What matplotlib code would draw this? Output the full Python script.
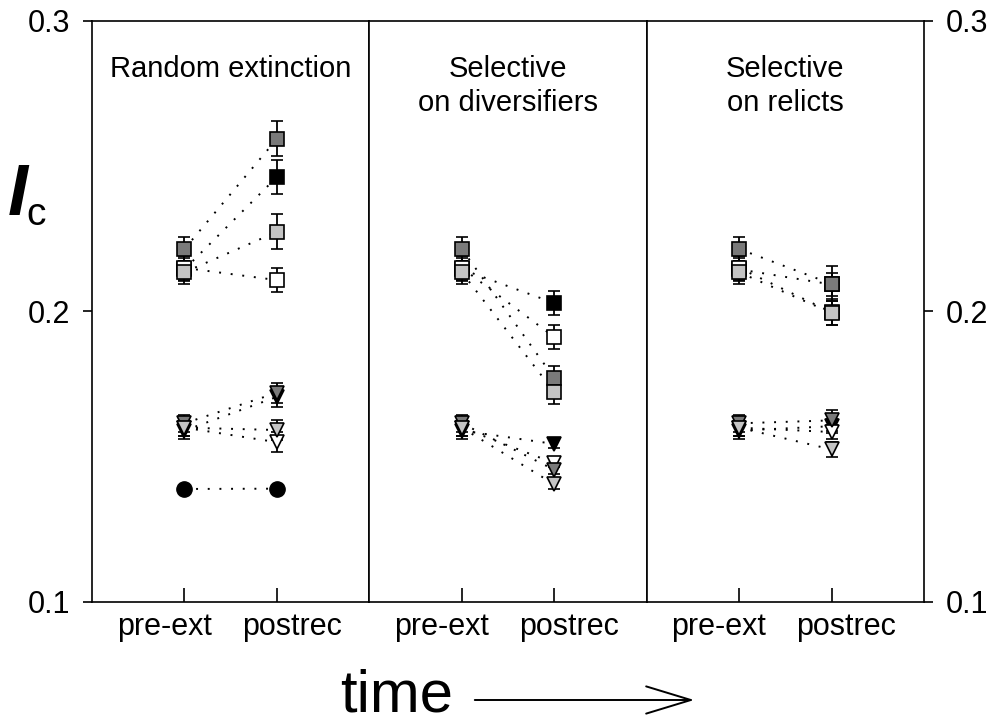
import matplotlib.pyplot as plt
import matplotlib.patches as mpatches

plt.rcParams['font.family'] = ['Liberation Sans', 'DejaVu Sans']

# ---- data ----
panel_titles = ["Random extinction", "Selective\non diversifiers", "Selective\non relicts"]
time_labels = ["pre-ext", "postrec"]

# series order: black, dark grey, light grey, white
# squares, same pre-extinction values in every panel
sq_pre = [0.2145, 0.2215, 0.2135, 0.2150]
sq_pre_err = [0.004, 0.004, 0.004, 0.004]
sq_post_random = [0.2463, 0.2594, 0.2274, 0.2108]
sq_post_div = [0.2029, 0.1771, 0.1723, 0.1912]
sq_post_rel = [0.2093, 0.2095, 0.1995, 0.1997]
sq_post_err_random = [0.006, 0.006, 0.006, 0.004]
sq_post_err_div = [0.004, 0.004, 0.004, 0.004]
sq_post_err_rel = [0.004, 0.006, 0.004, 0.0045]

# triangles
tri_pre = [0.1590, 0.1615, 0.1600, 0.1600]
tri_pre_err = [0.003, 0.003, 0.003, 0.003]
tri_post_random = [0.1706, 0.1720, 0.1592, 0.1550]
tri_post_div = [0.1544, 0.1455, 0.1405, 0.1478]
tri_post_rel = [0.1605, 0.1625, 0.1525, 0.1585]
tri_post_err_random = [0.0035, 0.0035, 0.0035, 0.0035]
tri_post_err_div = [0.0015, 0.0015, 0.0015, 0.0015]
tri_post_err_rel = [0.0025, 0.0035, 0.0025, 0.0025]

# circles (random extinction only)
circ_pre = 0.1389
circ_post = 0.1390

sq_post = [sq_post_random, sq_post_div, sq_post_rel]
sq_post_err = [sq_post_err_random, sq_post_err_div, sq_post_err_rel]
tri_post = [tri_post_random, tri_post_div, tri_post_rel]
tri_post_err = [tri_post_err_random, tri_post_err_div, tri_post_err_rel]

face_colors = ['black', '#7a7a7a', '#c4c4c4', 'white']
draw_order = [0, 3, 1, 2]
x = [1, 2]
label_x = [0.78, 2.16]   # the time labels sit a bit outside the ticks
dots = (0, (1, 5))

fig, axes = plt.subplots(1, 3, sharey=True, figsize=(9.91, 7.18), dpi=100)
plt.subplots_adjust(left=0.0928, right=0.9324, bottom=0.1616, top=0.9708, wspace=0)

for i, ax in enumerate(axes):
    for j in draw_order:
        # squares
        ax.plot(x, [sq_pre[j], sq_post[i][j]], color='k', ls=dots, lw=1.4, zorder=1)
        ax.errorbar(x, [sq_pre[j], sq_post[i][j]], yerr=[sq_pre_err[j], sq_post_err[i][j]],
                    fmt='s', ms=9.5, mfc=face_colors[j], mec='k', mew=1.2,
                    ecolor='k', elinewidth=1.3, capsize=4.5, capthick=1.3, zorder=3)
        # triangles
        ax.plot(x, [tri_pre[j], tri_post[i][j]], color='k', ls=dots, lw=1.4, zorder=1)
        ax.errorbar(x, [tri_pre[j], tri_post[i][j]], yerr=[tri_pre_err[j], tri_post_err[i][j]],
                    fmt='v', ms=10.5, mfc=face_colors[j], mec='k', mew=1.2,
                    ecolor='k', elinewidth=1.3, capsize=4.5, capthick=1.3, zorder=3)
    if i == 0:
        ax.plot(x, [circ_pre, circ_post], color='k', ls=dots, lw=1.4, zorder=1)
        ax.plot(x, [circ_pre, circ_post], 'o', ms=11, color='k', ls='none', zorder=3)

    ax.text(0.5, 0.941, panel_titles[i], transform=ax.transAxes, ha='center', va='top',
            fontsize=21, linespacing=1.25)

    ax.set_xlim(0, 3)
    ax.set_ylim(0.1, 0.3)
    ax.set_xticks(x)
    ax.set_xticklabels(['', ''])
    ax.set_xticks(label_x, minor=True)
    ax.set_xticklabels(time_labels, minor=True)
    ax.set_yticks([0.1, 0.2, 0.3])
    ax.set_yticklabels(['0.1', '0.2', '0.3'])
    ax.tick_params(axis='x', which='major', direction='in', length=10, width=1.2)
    ax.tick_params(axis='x', which='minor', length=0, labelsize=22, pad=7)
    ax.tick_params(axis='y', direction='out', length=6.5, width=1.2, labelsize=22, pad=9)
    for s in ax.spines.values():
        s.set_linewidth(1.2)

axes[0].tick_params(axis='y', left=True, right=False, labelleft=True)
axes[1].tick_params(axis='y', left=False, right=False, labelleft=False)
axes[2].tick_params(axis='y', left=False, right=True, labelleft=False, labelright=True)

# y label I_c
fig.text(0.008, 1 - 215 / 718, 'I', fontsize=52, fontstyle='italic', fontweight='bold',
         va='baseline', ha='left')
fig.text(0.027, 1 - 225 / 718, 'c', fontsize=28, va='baseline', ha='left')

# time arrow
fig.text(340 / 991, 1 - 711 / 718, 'time', fontsize=43, va='baseline', ha='left')
fig.add_artist(mpatches.FancyArrowPatch(
    (472 / 991, 1 - 700 / 718), (697 / 991, 1 - 700 / 718), transform=fig.transFigure,
    arrowstyle='->,head_length=2.3,head_width=0.7', lw=1.4, color='k', mutation_scale=14))

plt.savefig('out.png', dpi=100)
